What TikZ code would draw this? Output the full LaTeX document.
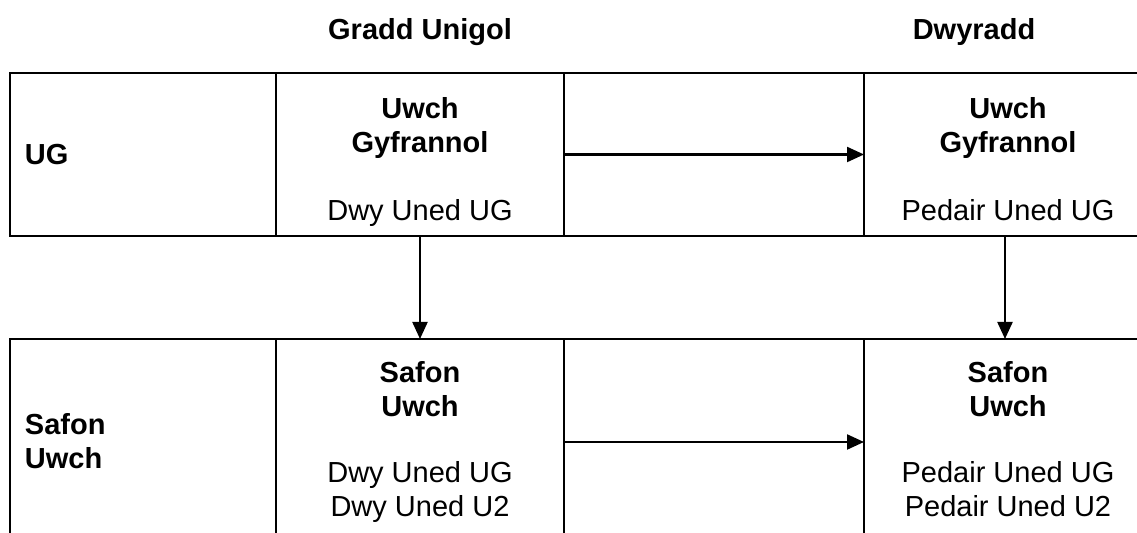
\documentclass[tikz,border=0pt]{standalone}
\usepackage{fontspec}
\setmainfont{Liberation Sans}
\usetikzlibrary{arrows.meta}
\begin{document}
\begin{tikzpicture}[x=0.5pt,y=-0.5pt,
  every node/.style={inner sep=0pt,outer sep=0pt},
  cell/.style={draw,line width=1.2pt,minimum height=#1},
  toprow/.style={cell=81.5pt},
  botrow/.style={cell=103pt},
  txt/.style={font=\fontsize{14.5}{17}\selectfont,align=center},
  btxt/.style={font=\fontsize{14.5}{17}\selectfont\bfseries},
  arr/.style={line width=1.1pt,-{Triangle[length=8.5pt,width=7.5pt]}}]
\useasboundingbox (0,0) rectangle (1137,533);
% header
\node[btxt,anchor=base] (h1) at (420,40) {Gradd Unigol};
\node[btxt,anchor=base] (h2) at (974,40) {Dwyradd};
% top row cells
\node[toprow,minimum width=133pt] (c11) at (143,154.5) {};
\node[toprow,minimum width=144pt] (c12) at (420,154.5) {};
\node[toprow,minimum width=150pt] (c13) at (714,154.5) {};
\node[toprow,minimum width=144pt] (c14) at (1008,154.5) {};
% bottom row cells
\node[botrow,minimum width=133pt] (c21) at (143,442) {};
\node[botrow,minimum width=144pt] (c22) at (420,442) {};
\node[botrow,minimum width=150pt] (c23) at (714,442) {};
\node[botrow,minimum width=144pt] (c24) at (1008,442) {};
% texts
\node[btxt,anchor=west] (t11) at (25,155) {UG};
\node[txt,anchor=north] (t12) at (420,97) {\bfseries Uwch\\\bfseries Gyfrannol\\[17pt]Dwy Uned UG};
\node[txt,anchor=north] (t14) at (1008,97) {\bfseries Uwch\\\bfseries Gyfrannol\\[17pt]Pedair Uned UG};
\node[btxt,align=left,anchor=north west] (t21) at (25,413) {Safon\\Uwch};
\node[txt,anchor=north] (t22) at (420,361) {\bfseries Safon\\\bfseries Uwch\\[16pt]Dwy Uned UG\\Dwy Uned U2};
\node[txt,anchor=north] (t24) at (1008,361) {\bfseries Safon\\\bfseries Uwch\\[16pt]Pedair Uned UG\\Pedair Uned U2};
% arrows
\draw[arr] (c13.west) -- (c14.west);
\draw[arr] (c23.west) -- (c24.west);
\draw[arr] (c12.south) -- (c22.north);
\draw[arr] ([xshift=-1.5pt]c14.south) -- ([xshift=-1.5pt]c24.north);
\end{tikzpicture}
\end{document}
